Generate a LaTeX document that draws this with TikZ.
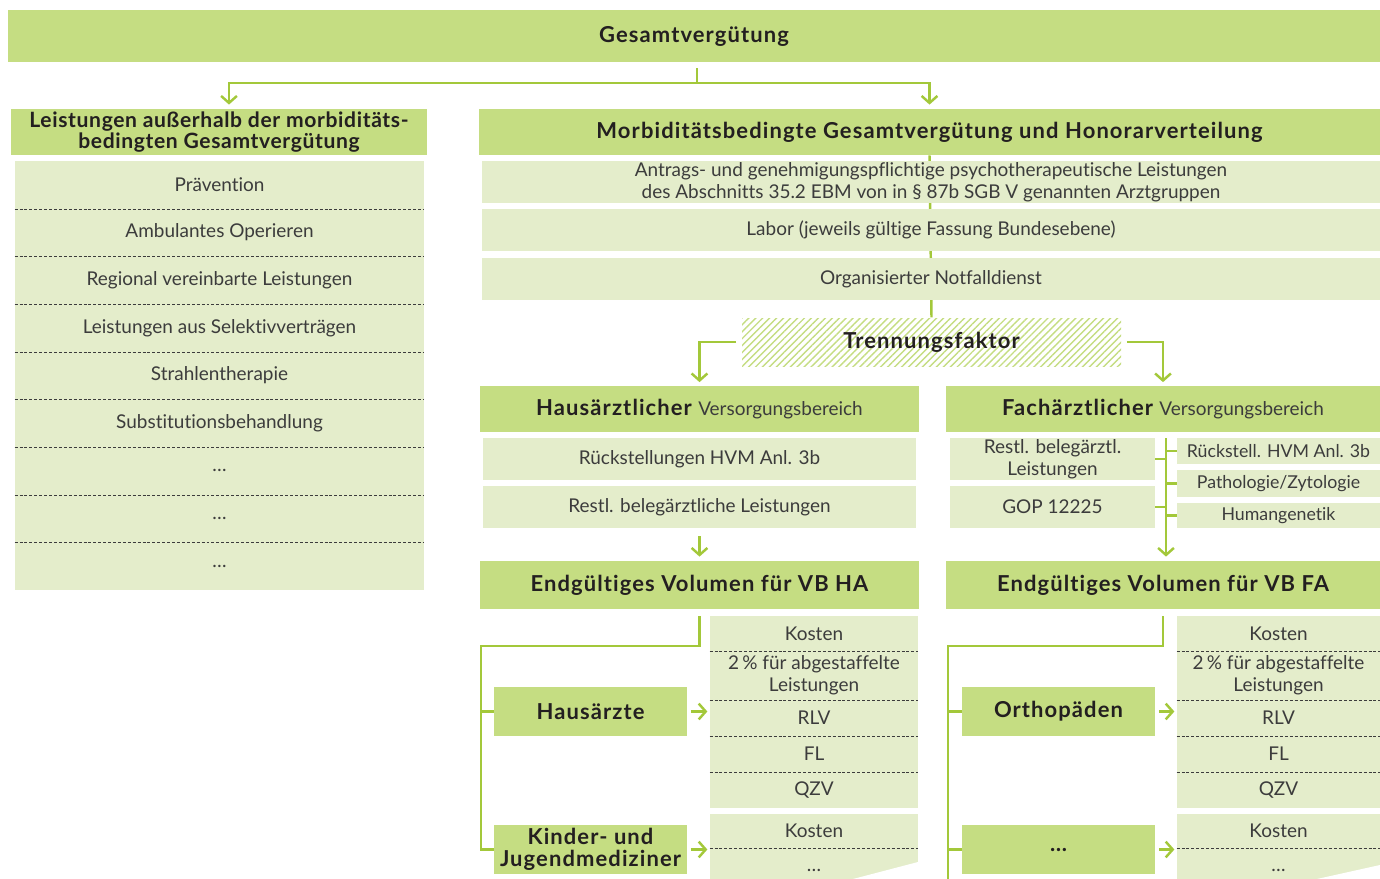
\documentclass[tikz,border=0pt]{standalone}
\usepackage{fontspec}
\setmainfont{Lato}[Ligatures=NoCommon]
\usetikzlibrary{arrows.meta,patterns.meta,positioning}

\definecolor{kvgreen}{HTML}{C5DD82}
\definecolor{kvlight}{HTML}{E4EDCB}
\definecolor{kvline}{HTML}{A3C83A}
\definecolor{kvtext}{HTML}{3C3C3C}
\definecolor{kvdark}{HTML}{231F20}

\pgfdeclarelayer{bg}
\pgfsetlayers{bg,main}

\newcommand{\px}{0.02cm}
\newcommand{\regfont}{\rmfamily\mdseries\fontsize{10.8}{12.5}\selectfont}
\newcommand{\headfont}{\bfseries\fontsize{12.5}{12.5}\selectfont\addfontfeatures{LetterSpace=5}}
\tikzset{
	head/.style={fill=kvgreen, text=kvdark, font=\headfont, inner sep=0pt, align=center},
	item/.style={fill=kvlight, text=kvtext, font=\regfont, inner sep=0pt, align=center},
	small/.style={item, font=\rmfamily\fontsize{10.1}{12}\selectfont},
	sz/.style 2 args={minimum width=#1*\px, minimum height=#2*\px},
	conn/.style={draw=kvline, line width=1.4pt},
	arr/.style={conn, -{Straight Barb[length=4pt,width=9pt]}},
	sep/.style={draw=kvtext, line width=0.6pt, dash pattern=on 1.7pt off 1.1pt},
	hatch/.style={pattern={Lines[angle=45,distance=2.8pt,line width=0.8pt]}, pattern color=kvgreen,
			text=kvdark, font=\headfont, inner sep=0pt},
}

\begin{document}
\begin{tikzpicture}[x=\px, y=-\px]
		\useasboundingbox (0,0) rectangle (1380,879);
		\clip (0,0) rectangle (1380,879);

		% top level
		\node[head, sz={1372}{52}] (gesamt) at (694,36) {Gesamtvergütung};
		\node[head, sz={416}{46}, font=\bfseries\fontsize{12}{12}\selectfont\addfontfeatures{LetterSpace=3}] (aussen) at (219,132)
			{Leistungen außerhalb der morbiditäts-\\bedingten Gesamtvergütung};
		\node[head, sz={901}{46}] (morb) at (929.5,132) {Morbiditätsbedingte Gesamtvergütung und Honorarverteilung};

		% left list
		\foreach \t [count=\i] in {Prävention, Ambulantes Operieren, Regional vereinbarte Leistungen,
				Leistungen aus Selektivverträgen, Strahlentherapie, Substitutionsbehandlung, \dots, \dots, \dots} {
				\node[item, sz={409}{47.67}] (l\i) at (219.5, 161+47.67*\i-23.83) {\t};
			}
		\foreach \i in {1,...,8} {
				\draw[sep] (l\i.south west) -- (l\i.south east);
			}

		% morbiditaetsbedingt
		\node[item, sz={898}{42}] (antrag) at (931,182) {Antrags- und genehmigungspflichtige psychotherapeutische Leistungen\\des Abschnitts 35.2 EBM von in § 87b SGB V genannten Arztgruppen};
		\node[item, sz={898}{42}] (labor) at (931,230) {Labor (jeweils gültige Fassung Bundesebene)};
		\node[item, sz={898}{42}] (notfall) at (931,279) {Organisierter Notfalldienst};
		\node[hatch, sz={379}{48}] (trenn) at (931.5,342) {Trennungsfaktor};

		% hausaerztlich
		\node[head, sz={439}{46}] (haus) at (699.5,409) {Hausärztlicher {\regfont\color{kvtext}Versorgungsbereich}};
		\node[item, sz={433}{42}] (hrueck) at (699.5,459) {Rückstellungen HVM Anl. 3b};
		\node[item, sz={433}{42}] (hbeleg) at (699.5,507) {Restl. belegärztliche Leistungen};
		\node[head, sz={439}{48}] (endha) at (699.5,585) {Endgültiges Volumen für VB HA};

		% fachaerztlich
		\node[head, sz={434}{46}] (fach) at (1163,409) {Fachärztlicher {\regfont\color{kvtext}Versorgungsbereich}};
		\node[item, sz={205}{42}] (fbeleg) at (1052.5,459) {Restl. belegärztl.\\Leistungen};
		\node[item, sz={205}{42}] (fgop) at (1052.5,507) {GOP 12225};
		\node[small, sz={203}{26}] (frueck) at (1278.5,451) {Rückstell. HVM Anl. 3b};
		\node[small, sz={203}{27}] (fpath) at (1278.5,483.5) {Pathologie/Zytologie};
		\node[small, sz={203}{25}] (fhuman) at (1278.5,515.5) {Humangenetik};
		\node[head, sz={434}{48}] (endfa) at (1163,585) {Endgültiges Volumen für VB FA};

		% arztgruppen HA
		\node[head, sz={193}{49}] (hausa) at (590.5,711.5) {Hausärzte};
		\node[head, sz={193}{49}] (kinder) at (590.5,849.5) {Kinder- und\\Jugendmediziner};
		\node[item, sz={208}{35}] (hs1) at (814,633.5) {Kosten};
		\node[item, sz={208}{49}] (hs2) at (814,675.5) {2\,\% für abgestaffelte\\Leistungen};
		\node[item, sz={208}{36}] (hs3) at (814,718) {RLV};
		\node[item, sz={208}{36}] (hs4) at (814,754) {FL};
		\node[item, sz={208}{36}] (hs5) at (814,790) {QZV};
		\node[item, sz={208}{34}] (hk1) at (814,831) {Kosten};
		\node[item, sz={208}{44}] (hk2) at (814,870) {\dots};
		\foreach \n in {hs1, hs2, hs3, hs4, hk1} {
				\draw[sep] (\n.south west) -- (\n.south east);
			}
		\fill[white] (853,879) -- (918,862) -- (918,879) -- cycle;

		% arztgruppen FA
		\node[head, sz={193}{49}] (ortho) at (1058.5,711.5) {Orthopäden};
		\node[head, sz={193}{49}] (weitere) at (1058.5,849.5) {\dots};
		\node[item, sz={203}{35}] (fs1) at (1278.5,633.5) {Kosten};
		\node[item, sz={203}{49}] (fs2) at (1278.5,675.5) {2\,\% für abgestaffelte\\Leistungen};
		\node[item, sz={203}{36}] (fs3) at (1278.5,718) {RLV};
		\node[item, sz={203}{36}] (fs4) at (1278.5,754) {FL};
		\node[item, sz={203}{36}] (fs5) at (1278.5,790) {QZV};
		\node[item, sz={203}{34}] (fk1) at (1278.5,831) {Kosten};
		\node[item, sz={203}{44}] (fk2) at (1278.5,870) {\dots};
		\foreach \n in {fs1, fs2, fs3, fs4, fk1} {
				\draw[sep] (\n.south west) -- (\n.south east);
			}
		\fill[white] (1317,879) -- (1380,865) -- (1380,879) -- cycle;

		% connectors
		\coordinate (split) at (697,83);
		\draw[conn, shorten <=3.4pt] (split |- gesamt.south) -- (split);
		\draw[arr, shorten >=2.3pt] (split) -| ([xshift=0.2cm]aussen.north);
		\draw[arr, shorten >=2.3pt] (split) -| (morb.north);
		\begin{pgfonlayer}{bg}
			\draw[conn] (morb.south) -- (trenn.north);
		\end{pgfonlayer}
		\draw[arr, shorten <=3pt, shorten >=2pt] (trenn.west) -| (haus.north);
		\draw[arr, shorten <=3pt, shorten >=2pt] (trenn.east) -| (fach.north);

		\draw[arr, shorten <=4.5pt, shorten >=2.3pt] (hbeleg.south) -- (endha.north);

		\coordinate (fspine) at (1166,438);
		\draw[arr, shorten >=2.3pt] (fspine) -- (fspine |- endfa.north);
		\foreach \n in {fbeleg, fgop} {
				\draw[conn] (\n.east) -- (\n.east -| fspine);
			}
		\foreach \n in {frueck, fpath, fhuman} {
				\draw[conn] (\n.west) -- (\n.west -| fspine);
			}

		\coordinate (hbus) at (481,646);
		\draw[conn, shorten <=4pt] (endha.south) -- (endha.south |- hbus) -- (hbus) -- (hbus |- kinder.west) -- (kinder.west);
		\draw[conn] (hbus |- hausa.west) -- (hausa.west);
		\draw[arr, shorten <=2pt, shorten >=1.3pt] (hausa.east) -- (hausa.east -| hs3.west);
		\draw[arr, shorten <=2pt, shorten >=1.3pt] (kinder.east) -- (kinder.east -| hk1.west);

		\coordinate (fbus) at (948,646);
		\draw[conn, shorten <=4pt] (endfa.south) -- (endfa.south |- fbus) -- (fbus) -- (948,900);
		\draw[conn] (fbus |- ortho.west) -- (ortho.west);
		\draw[conn] (fbus |- weitere.west) -- (weitere.west);
		\draw[arr, shorten <=2pt, shorten >=1.3pt] (ortho.east) -- (ortho.east -| fs3.west);
		\draw[arr, shorten <=2pt, shorten >=1.3pt] (weitere.east) -- (weitere.east -| fk1.west);
	\end{tikzpicture}
\end{document}
